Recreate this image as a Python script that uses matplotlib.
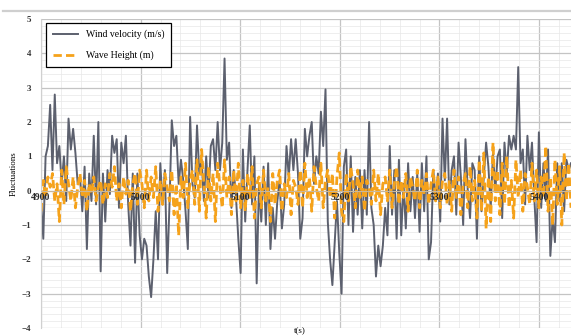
import matplotlib
matplotlib.use("Agg")
import matplotlib.pyplot as plt
import numpy as np
from matplotlib.lines import Line2D
from matplotlib.ticker import MultipleLocator

# time span of the record (s)
t_start = 4900
t_end = 5432

# wind velocity fluctuation (m/s)
wind = [
    -0.3, -1.4, 1.0, 1.3, 2.5, 0.6, 2.8, 0.8, 1.3, 0.2, 1.0, -0.3, 2.1, 1.2, 1.8, 1.1,
    0.2, 0.4, -0.6, 0.7, -1.7, 0.5, -0.3, 1.6, -0.4, 2.0, -2.35, 0.5, -0.9, 0.6, -0.1,
    1.6, 1.1, 1.5, -0.5, 1.4, 0.8, 1.6, -0.4, -1.6, 0.5, -2.1, 0.5, -1.3, -2.0, -1.4,
    -1.6, -2.5, -3.1, -2.0, -0.6, -2.0, 0.8, -0.4, 0.6, -2.4, -0.4, 2.05, 1.3, 1.6, 0.2,
    0.9, 0.3, -0.6, -1.7, 2.15, 0.2, -0.2, 1.9, 0.5, 0.9, -0.3, 1.0, -0.2, 1.3, 1.5,
    0.6, 2.0, 0.6, 1.4, 3.85, 0.9, 1.4, -0.5, 0.6, -0.2, -1.4, -2.4, 1.2, -0.9, 0.6,
    1.9, -0.4, 1.0, -2.7, 0.2, -0.9, 0.7, -1.0, 0.8, -1.7, -0.5, -1.4, -0.3, 0.3, -1.1,
    -0.4, 1.3, 0.4, 1.5, 0.6, 1.5, 0.5, -1.4, -0.8, 1.8, 1.0, 1.6, 2.0, 0.2, 1.0, 0.5,
    2.3, 1.3, 2.95, -0.9, -2.0, -2.75, -1.5, -0.3, -1.8, -3.0, 0.7, 1.2, -1.0, 1.0, -1.2,
    0.4, -0.7, 0.6, -1.1, 0.6, -0.7, 2.0, -0.5, -1.0, -2.5, -1.6, -2.2, -1.6, -0.5, -1.3,
    1.3, -0.7, 0.6, -1.4, 0.9, -1.3, 0.2, -1.1, 0.8, -0.6, 0.4, -0.8, 0.5, -1.2, 0.8,
    -0.6, 1.0, -2.0, -1.5, 0.6, -0.3, 0.5, -0.9, 2.1, 0.3, 2.1, -0.4, 0.6, 1.0, -0.7,
    1.4, 0.4, -1.0, 1.5, 0.0, -0.8, 0.8, 0.6, -1.4, 1.0, -0.6, 0.4, 1.4, 0.7, -0.5, 1.1,
    0.0, 1.0, 1.2, -0.8, 1.4, 0.5, 1.6, 1.2, 1.6, 1.2, 3.6, 0.8, 1.2, -0.4, 1.6, 0.6,
    1.4, -0.2, -1.5, 1.7, -0.5, 0.8, -0.3, 1.2, -1.9, -0.8, -1.5, 0.8, -0.3, 0.8, -0.6,
    0.9, 0.6, 0.8,
]

# wave height fluctuation (m)
wave = [
    # 4900 - 5000
    -0.6, 0.3, -0.2, 0.4, 0.1, 0.5, -0.3, 0.2, -0.9, 0.6, -0.4, 0.7, 0.2, -0.3, 0.4,
    -0.5, 0.1, 0.5, -0.2, 0.3, -0.6, 0.2, -0.1, 0.4, -0.3, 0.1, 0.3, -0.4, 0.2, -0.2,
    0.5, 0.1, 0.7, -0.3, 0.2, -0.5, 0.4, -0.1, 0.3, -0.6, 0.2, 0.5, -0.4, 0.6,
    # 5000 - 5100
    0.2, -0.5, 0.6, -0.3, 0.4, -0.2, 0.7, -0.6, 0.3, -0.4, 0.5, 0.1, -0.3, 0.6, -0.7,
    0.2, -1.3, 0.4, -0.2, 0.8, -0.5, 0.3, 0.6, -0.4, 0.9, -0.6, 1.2, 0.2, -0.8, 0.7,
    -0.3, 0.5, -0.9, 0.8, 0.1, -0.5, 0.9, -0.2, 0.4, -0.7, 0.6, -0.3, 0.8, -0.5,
    # 5100 - 5200
    0.3, -0.6, 0.5, -0.2, 0.7, -0.8, 0.2, 0.4, -0.5, 0.6, -0.3, 0.1, -0.9, 0.5, -0.4,
    0.3, 0.6, -0.6, 0.2, -0.2, 0.5, -0.7, 0.3, 0.1, -0.4, 0.6, -0.5, 0.8, -0.2, 0.4,
    -0.6, 0.7, 0.1, -0.3, 0.8, -0.5, 0.3, 0.6, -0.2, 0.5, -0.8, 0.4, 1.1, -0.6,
    # 5200 - 5300
    -0.9, 0.5, -0.3, 0.7, 0.2, -0.5, 0.6, -0.2, 0.4, -0.6, 0.3, 0.1, -0.4, 0.6, -0.3,
    0.5, -0.7, 0.2, 0.4, -0.3, 0.6, -0.5, 0.2, 0.7, -0.4, 0.3, -0.2, 0.5, -0.6, 0.4,
    0.1, -0.3, 0.6, -0.5, 0.3, -0.1, 0.5, -0.4, 0.2, 0.6, -0.3, 0.4, -0.5, 0.3,
    # 5300 - 5400
    0.5, -0.4, 0.3, -0.6, 0.6, -0.2, 0.4, -0.7, 0.2, 0.5, -0.5, 0.7, -0.3, 0.3, -0.8,
    0.9, -0.6, 1.1, -1.1, 0.4, -0.9, 1.4, -0.3, 0.6, -0.7, 0.8, -0.4, 1.0, -0.5, 0.3,
    -0.8, 0.9, -0.2, 0.6, -0.6, 0.5, 0.1, -0.4, 0.8, -0.3, 0.6, -0.5, 0.4, -0.2,
    # 5400 -
    1.3, -0.6, 0.4, -1.0, 0.9, -0.4, 0.7, -1.0, 1.1, -0.3, 0.8, -0.5,
]

x_ticks = [4900, 5000, 5100, 5200, 5300, 5400]
y_ticks = [-4, -3, -2, -1, 0, 1, 2, 3, 4, 5]

t = np.linspace(t_start, t_end, len(wind))

serif = "Liberation Serif"
rect = [0.0718, 0.0238, 0.9282, 0.9196]

fig = plt.figure(figsize=(5.71, 3.36), dpi=100)

# grid sits in its own axes behind the data
gax = fig.add_axes(rect)
gax.set_xlim(4900, 5432)
gax.set_ylim(-4, 5)
gax.set_xticks(x_ticks)
gax.set_yticks(y_ticks)
gax.xaxis.set_minor_locator(MultipleLocator(20))
gax.yaxis.set_minor_locator(MultipleLocator(0.2))
gax.grid(which="major", color="#c4c4c4", lw=0.9)
gax.grid(which="minor", color="#e8e8e8", lw=0.5)
gax.tick_params(which="both", length=0, labelbottom=False, labelleft=False)
for s in gax.spines.values():
    s.set_visible(False)

# data axes on top, tick labels drawn over the lines
ax = fig.add_axes(rect, sharex=gax, sharey=gax)
ax.patch.set_alpha(0)
ax.set_axisbelow(False)

ax.plot(t, wind, color="#5c606e", lw=1.4, label="Wind velocity (m/s)", zorder=1)
ax.plot(t, wave, color="#f5a21b", lw=2.0, ls=(0, (3, 1.5)), label="Wave Height (m)", zorder=2)

ax.set_xticks(x_ticks)
ax.set_yticks(y_ticks)

# horizontal axis crosses at zero
ax.spines["bottom"].set_position(("data", 0))
ax.spines["bottom"].set_color("#c9b79a")
ax.spines["left"].set_color("#d0d0d0")
ax.spines["top"].set_visible(False)
ax.spines["right"].set_visible(False)
ax.tick_params(which="both", length=0)
ax.tick_params(axis="x", pad=2, labelsize=7, labelcolor="#2a2a2a")
ax.tick_params(axis="y", pad=7, labelsize=6.5, labelcolor="#333333")
for lab in ax.get_xticklabels() + ax.get_yticklabels():
    lab.set_fontfamily(serif)
    lab.set_fontweight("bold")

ax.set_ylabel("Fluctuations", fontfamily=serif, fontsize=6.5, labelpad=3)

leg = ax.legend(loc="upper left", bbox_to_anchor=(0.009, 0.987), borderaxespad=0,
                fancybox=False, edgecolor="black", framealpha=1,
                prop={"family": serif, "size": 7}, handlelength=2.6,
                labelspacing=1.15, borderpad=0.7)
leg.get_frame().set_linewidth(0.9)
leg.set_zorder(5)

fig.text(300 / 571, 0.002, "t(s)", fontfamily=serif, fontsize=6.5, ha="center", va="bottom")
fig.add_artist(Line2D([0.005, 1.0], [1 - 11 / 336] * 2, color="#cfcfcf", lw=1.6))

fig.savefig("out.png", dpi=100)
